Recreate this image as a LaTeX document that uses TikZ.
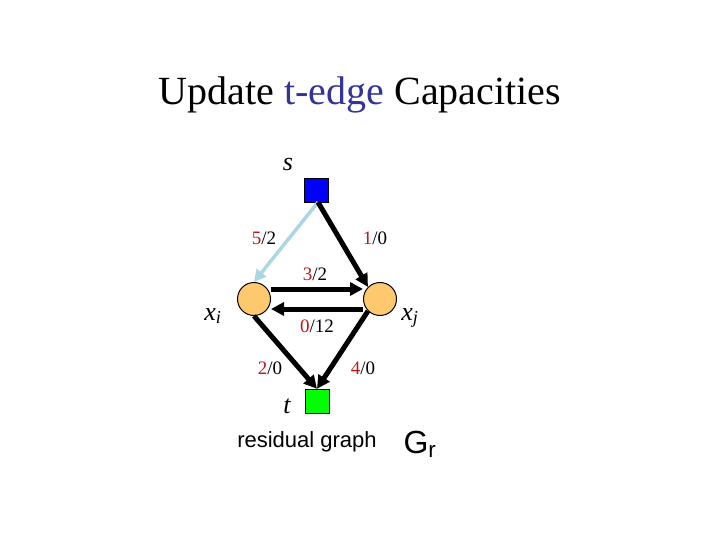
\documentclass[tikz,border=0pt]{standalone}
\usepackage{fontspec}
\setmainfont{Liberation Serif}
\newfontfamily\arialf{Liberation Sans}
\usetikzlibrary{arrows.meta}
\definecolor{tblue}{RGB}{51,51,153}
\definecolor{lred}{RGB}{185,25,25}
\definecolor{lblue}{RGB}{170,215,225}
\definecolor{orng}{RGB}{253,200,110}
\begin{document}
\begin{tikzpicture}[x=1pt,y=-1pt,
  sq/.style={draw=black,minimum size=24pt,inner sep=0pt},
  nd/.style={circle,draw=black,fill=orng,minimum size=33pt,inner sep=0pt,line width=1pt},
  ed/.style={line width=5pt,-{Triangle[length=13pt,width=13pt]}},
  lab/.style={font=\fontsize{19}{19}\selectfont},
  nm/.style={font=\itshape\fontsize{26}{26}\selectfont}]
\useasboundingbox (0,0) rectangle (720,540);
\node (title) at (360,95) {\fontsize{40}{40}\selectfont Update \textcolor{tblue}{t-edge} Capacities};
\node[sq,fill=blue] (s) at (316,190) {};
\node[sq,fill=green] (t) at (317,401) {};
\node[nd] (xi) at (254,299) {};
\node[nd] (xj) at (380,299) {};
\node[nm] (ls) at (288,165) {s};
\node[nm] (lt) at (287,406) {t};
\node[nm] (lxi) at (213,316) {x\textsubscript{i}};
\node[nm] (lxj) at (410,318) {x\textsubscript{j}};
\draw[line width=3.5pt,-{Triangle[length=12pt,width=12pt]},color=lblue] ([xshift=2pt]s.south) -- (xi.north);
\draw[ed] ([xshift=2pt]s.south) -- (xj.north west);
\draw[ed] ([yshift=10pt]xi.east) -- ([yshift=10pt]xj.west);
\draw[ed] ([yshift=-10pt]xj.west) -- ([yshift=-10pt]xi.east);
\draw[ed] (xi.south) -- (t.north);
\draw[ed] (xj.south west) -- (t.north);
\node[lab] (l1) at (264,238) {\textcolor{lred}{5}/2};
\node[lab] (l2) at (375,238) {\textcolor{lred}{1}/0};
\node[lab] (l3) at (315,274) {\textcolor{lred}{3}/2};
\node[lab] (l4) at (317,326) {\textcolor{lred}{0}/12};
\node[lab] (l5) at (270,368) {\textcolor{lred}{2}/0};
\node[lab] (l6) at (363,368) {\textcolor{lred}{4}/0};
\node (rg) at (307,442) {\arialf\fontsize{22}{22}\selectfont residual graph};
\node (gr) at (420,444) {\arialf\fontsize{32}{32}\selectfont G\textsubscript{r}};
\end{tikzpicture}
\end{document}
